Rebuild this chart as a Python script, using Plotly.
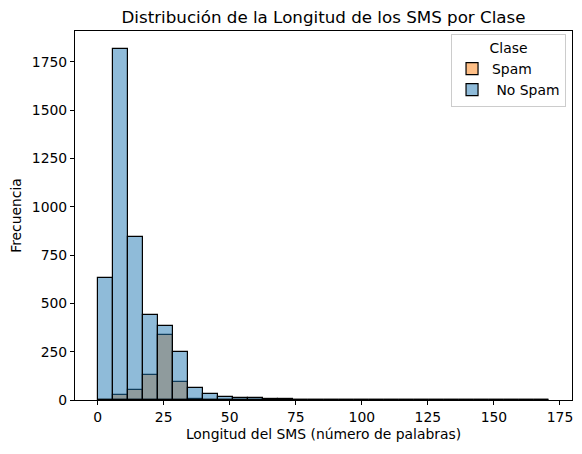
import plotly.graph_objects as go

# bin edges of the histogram (30 bins, word count)
bin_edges = [0, 5.7, 11.4, 17.1, 22.8, 28.5, 34.2, 39.9, 45.6, 51.3, 57.0,
             62.7, 68.4, 74.1, 79.8, 85.5, 91.2, 96.9, 102.6, 108.3, 114.0,
             119.7, 125.4, 131.1, 136.8, 142.5, 148.2, 153.9, 159.6, 165.3, 171.0]

# counts per bin
no_spam_counts = [630, 1819, 842, 438, 383, 247, 62, 30, 15, 9, 8, 4, 3, 1, 1,
                  0, 0, 0, 0, 0, 0, 0, 0, 0, 0, 0, 0, 0, 0, 1]
spam_counts = [1, 24, 51, 129, 337, 93, 3, 0, 0, 0, 0, 0, 0, 0, 0,
               0, 0, 0, 0, 0, 0, 0, 0, 0, 0, 0, 0, 0, 0, 0]

labels = ["Spam", " No Spam"]
x_ticks = [0, 25, 50, 75, 100, 125, 150, 175]
y_ticks = [0, 250, 500, 750, 1000, 1250, 1500, 1750]

centers = [(a + b) / 2 for a, b in zip(bin_edges[:-1], bin_edges[1:])]
widths = [b - a for a, b in zip(bin_edges[:-1], bin_edges[1:])]

fig = go.Figure()
fig.add_trace(go.Bar(x=centers, y=spam_counts, width=widths, name=labels[0],
                     marker=dict(color="rgba(255,127,14,0.5)",
                                 line=dict(color="black", width=1.2))))
fig.add_trace(go.Bar(x=centers, y=no_spam_counts, width=widths, name=labels[1],
                     marker=dict(color="rgba(31,119,180,0.5)",
                                 line=dict(color="black", width=1.2))))

fs = 13.9
axis_style = dict(showline=True, linecolor="black", linewidth=1.1, mirror=True,
                  ticks="outside", ticklen=4, tickcolor="black", showgrid=False,
                  zeroline=False, tickfont=dict(size=fs, color="black"))

fig.update_layout(
    width=582, height=454,
    barmode="overlay",
    bargap=0,
    plot_bgcolor="white",
    paper_bgcolor="white",
    font=dict(family="DejaVu Sans", color="black"),
    margin=dict(l=75, r=10, t=31, b=54),
    title=dict(text="Distribución de la Longitud de los SMS por Clase",
               x=(75 + 572) / 2 / 582, xanchor="center", y=1 - 17 / 454, yanchor="middle",
               font=dict(size=16.7)),
    xaxis=dict(range=[-8.55, 179.55], tickvals=x_ticks,
               title=dict(text="Longitud del SMS (número de palabras)",
                          font=dict(size=fs), standoff=5),
               **axis_style),
    yaxis=dict(range=[0, 1910], tickvals=y_ticks,
               title=dict(text="Frecuencia", font=dict(size=fs), standoff=6),
               **axis_style),
    legend=dict(x=0.988, y=0.992, xanchor="right", yanchor="top",
                bordercolor="#cccccc", borderwidth=1, bgcolor="white",
                font=dict(size=fs),
                title=dict(text="Clase", side="top center", font=dict(size=fs))),
)

fig.write_html("out.html", config={"displayModeBar": False},
               post_script="document.body.style.margin='0';")
